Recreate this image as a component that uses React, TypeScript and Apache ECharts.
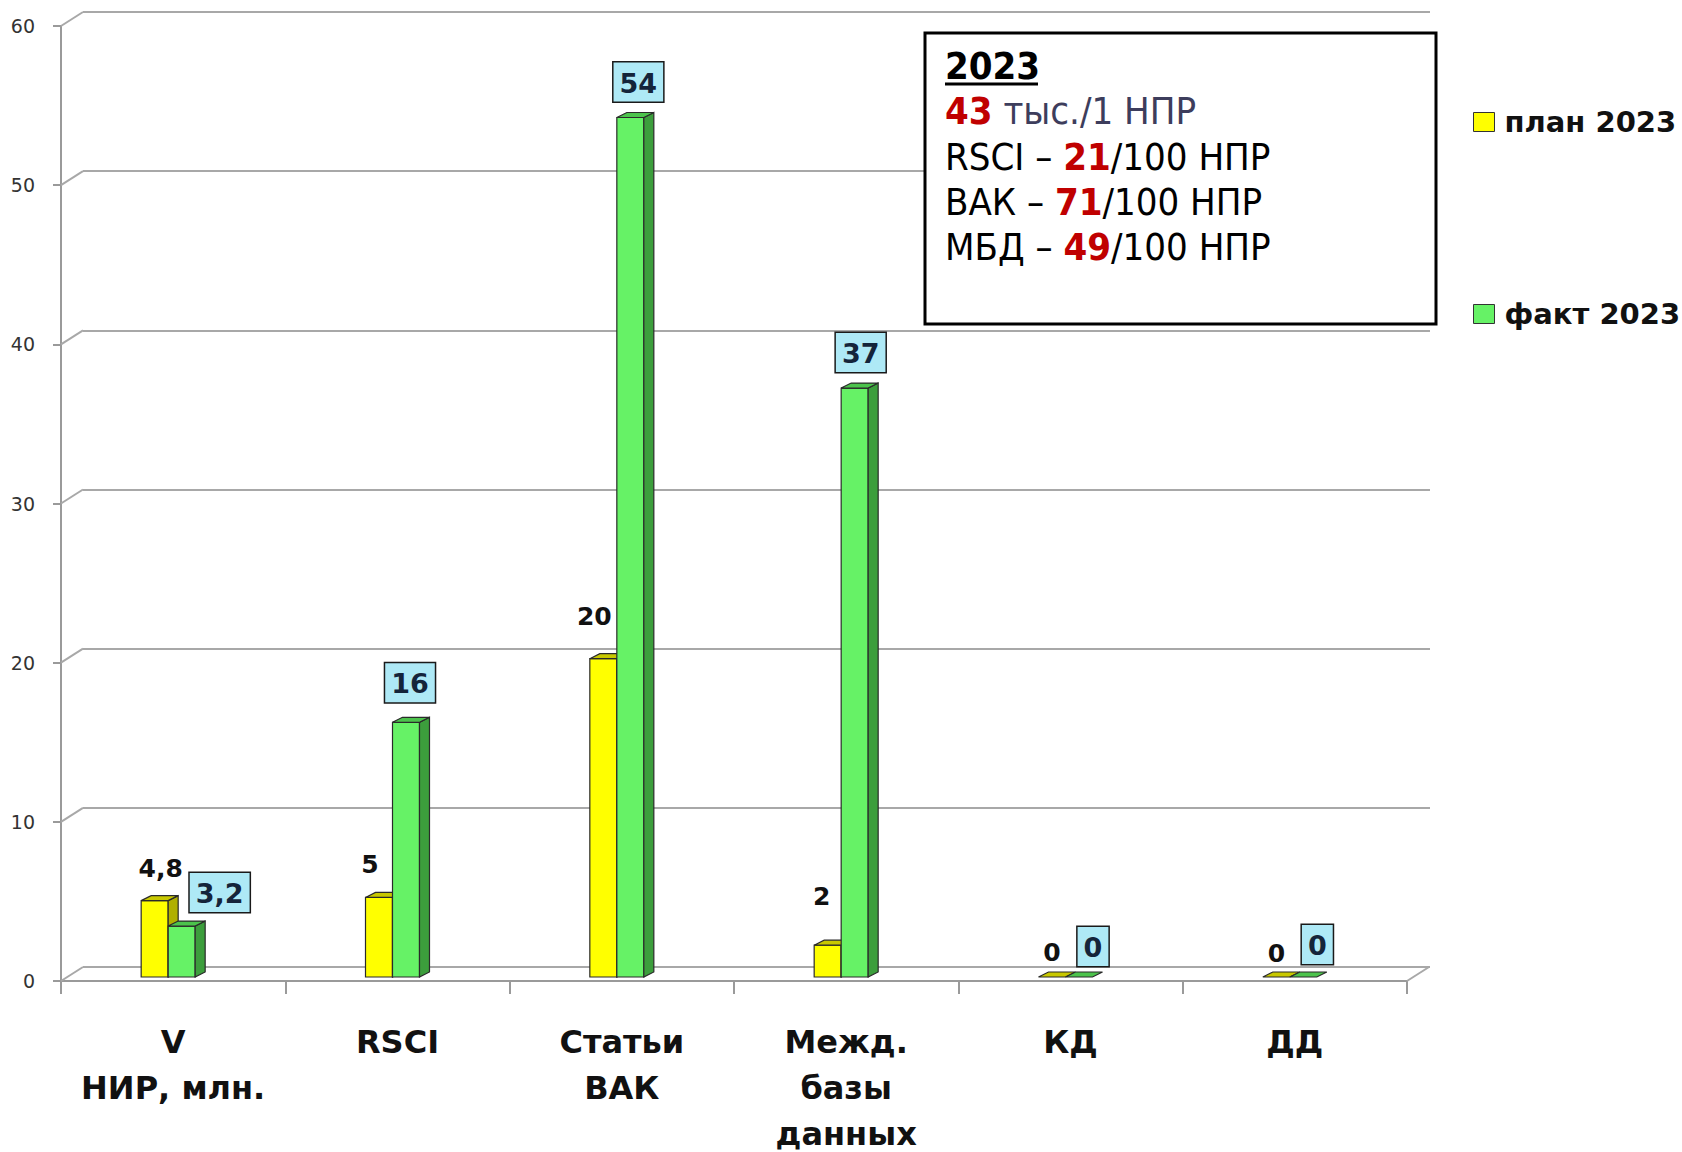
import React, { useEffect, useRef } from 'react';
import * as echarts from 'echarts';

// ---------- data ----------
const CATEGORIES = ['V\nНИР, млн.', 'RSCI', 'Статьи\nВАК', 'Межд.\nбазы\nданных', 'КД', 'ДД'];
const PLAN_2023 = [4.8, 5, 20, 2, 0, 0];
const FACT_2023 = [3.2, 16, 54, 37, 0, 0];
const Y_TICKS = [0, 10, 20, 30, 40, 50, 60];
const SERIES_NAMES = ['план 2023', 'факт 2023'];

// ---------- layout / style ----------
const DEPTH_X = 22;
const DEPTH_Y = -14;
const BAR_W = 27;
const BAR_DX = 10;
const BAR_DY = -5;
const BAR_LIFT = 4;
// label nudges [dx, distance above bar top]
const PLAN_LABEL_OFFSET = [[6, 32], [-9, 33], [-9, 42], [-6, 49], [0, 25], [0, 24]];
const FACT_LABEL_OFFSET = [[38, 14], [4, 20], [8, 16], [6, 16], [14, 11], [14, 13]];

const GRID_COLOR = '#a8a8a8';
const AXIS_COLOR = '#9a9a9a';
const FONT = '"DejaVu Sans", Verdana, sans-serif';
const BOX_FONT = '"DejaVu Sans Condensed", "DejaVu Sans", sans-serif';
const BOX_FS = 38;

const fmt = (v: number) => String(v).replace('.', ',');

const PALETTE = [
  { front: '#ffff00', side: '#b0b000', top: '#c8c800' },
  { front: '#66f266', side: '#3c9e3c', top: '#4cc34c' },
];

function makeBarRender(seriesIdx: number) {
  return (params: any, api: any) => {
    const i = api.value(0);
    const v = api.value(1);
    const [cx, yv] = api.coord([i, v]);
    const [, y0] = api.coord([i, 0]);
    const left = cx - (2 * BAR_W + BAR_DX) / 2 + seriesIdx * BAR_W;
    const base = y0 - BAR_LIFT;
    const topY = yv - BAR_LIFT;
    const c = PALETTE[seriesIdx];
    const stroke = '#2a2a2a';
    const children: any[] = [];
    if (base - topY > 0.5) {
      children.push({
        type: 'rect',
        shape: { x: left, y: topY, width: BAR_W, height: base - topY },
        style: { fill: c.front, stroke, lineWidth: 1.2 },
      });
      children.push({
        type: 'polygon',
        shape: {
          points: [
            [left + BAR_W, topY],
            [left + BAR_W + BAR_DX, topY + BAR_DY],
            [left + BAR_W + BAR_DX, base + BAR_DY],
            [left + BAR_W, base],
          ],
        },
        style: { fill: c.side, stroke, lineWidth: 1.2 },
      });
    }
    children.push({
      type: 'polygon',
      shape: {
        points: [
          [left, topY],
          [left + BAR_DX, topY + BAR_DY],
          [left + BAR_W + BAR_DX, topY + BAR_DY],
          [left + BAR_W, topY],
        ],
      },
      style: { fill: c.top, stroke, lineWidth: 1.2 },
    });
    const fc = left + BAR_W / 2;
    if (seriesIdx === 0) {
      const [dx, dy] = PLAN_LABEL_OFFSET[i];
      children.push({
        type: 'text',
        z2: 50,
        x: fc + dx,
        y: topY - dy,
        style: {
          text: fmt(v),
          font: `bold 25px ${FONT}`,
          fill: '#111',
          align: 'center',
          verticalAlign: 'middle',
        },
      });
    } else {
      const [dx, dy] = FACT_LABEL_OFFSET[i];
      children.push({
        type: 'text',
        z2: 50,
        x: fc + dx,
        y: topY - dy,
        style: {
          text: fmt(v),
          font: `bold 27px ${FONT}`,
          fill: '#14243a',
          align: 'center',
          verticalAlign: 'bottom',
          backgroundColor: '#aee9f6',
          borderColor: '#1a1a1a',
          borderWidth: 1.5,
          padding: [7, 6, 5, 6],
        },
      });
    }
    return { type: 'group', children };
  };
}

function wallRender(params: any, api: any) {
  const v = api.value(1);
  const [, y] = api.coord([0, v]);
  const cs = params.coordSys;
  const x0 = cs.x;
  const children: any[] = [
    {
      type: 'line',
      shape: { x1: x0, y1: y, x2: x0 + DEPTH_X, y2: y + DEPTH_Y },
      style: { stroke: GRID_COLOR, lineWidth: 2 },
    },
  ];
  if (v === 0) {
    const x1 = cs.x + cs.width;
    children.push({
      type: 'line',
      shape: { x1, y1: y, x2: x1 + DEPTH_X, y2: y + DEPTH_Y },
      style: { stroke: GRID_COLOR, lineWidth: 2 },
    });
  }
  return { type: 'group', children };
}

export default function App() {
  const ref = useRef<HTMLDivElement>(null);
  useEffect(() => {
    document.body.style.margin = '0';
    const chart = echarts.init(ref.current!, null, { renderer: 'svg' });
    const boxLine = (y: number, text: string) => ({
      type: 'text',
      z: 101,
      x: 945,
      y,
      style: {
        text,
        font: `${BOX_FS}px ${BOX_FONT}`,
        fill: '#000',
        verticalAlign: 'middle',
        rich: {
          r: { fontSize: BOX_FS, fontWeight: 'bold', fontFamily: BOX_FONT, fill: '#c00000' },
          s: { fontSize: BOX_FS, fontFamily: BOX_FONT, fill: '#3d3d5c' },
          n: { fontSize: BOX_FS, fontFamily: BOX_FONT, fill: '#000' },
        },
      },
    });
    chart.setOption({
      animation: false,
      backgroundColor: '#ffffff',
      grid: [
        { left: 61, right: 275, top: 26, bottom: 171, outerBoundsMode: 'none', containLabel: false },
        { left: 83, right: 252, top: 12, bottom: 185, outerBoundsMode: 'none', containLabel: false },
      ],
      xAxis: [
        {
          type: 'category',
          gridIndex: 0,
          data: CATEGORIES,
          boundaryGap: true,
          axisLine: { show: true, lineStyle: { color: AXIS_COLOR, width: 2 } },
          axisTick: { show: true, length: 13, interval: 0, lineStyle: { color: AXIS_COLOR, width: 2 } },
          axisLabel: {
            interval: 0,
            margin: 38,
            fontFamily: FONT,
            fontWeight: 'bold',
            fontSize: 32,
            lineHeight: 46,
            color: '#111',
          },
          splitLine: { show: false },
        },
        {
          type: 'category',
          gridIndex: 1,
          data: CATEGORIES,
          show: false,
        },
      ],
      yAxis: [
        {
          type: 'value',
          gridIndex: 0,
          min: 0,
          max: 60,
          interval: 10,
          axisLine: { show: true, lineStyle: { color: AXIS_COLOR, width: 2 } },
          axisTick: { show: true, length: 8, lineStyle: { color: AXIS_COLOR, width: 2 } },
          axisLabel: { margin: 26, fontFamily: FONT, fontSize: 19, color: '#333' },
          splitLine: { show: false },
        },
        {
          type: 'value',
          gridIndex: 1,
          min: 0,
          max: 60,
          interval: 10,
          axisLine: { show: false },
          axisTick: { show: false },
          axisLabel: { show: false },
          splitLine: { show: true, lineStyle: { color: GRID_COLOR, width: 2 } },
        },
      ],
      legend: {
        data: SERIES_NAMES,
        orient: 'vertical',
        left: 1468,
        top: 101,
        itemWidth: 21,
        itemHeight: 19,
        itemGap: 160,
        icon: 'rect',
        itemStyle: { borderColor: '#333', borderWidth: 1 },
        textStyle: {
          fontFamily: FONT,
          fontWeight: 'bold',
          fontSize: 29,
          lineHeight: 32,
          color: '#111',
          padding: [0, 0, 0, 5],
        },
        selectedMode: false,
      },
      series: [
        {
          type: 'custom',
          name: 'walls',
          xAxisIndex: 0,
          yAxisIndex: 0,
          silent: true,
          z: 1,
          renderItem: wallRender,
          data: Y_TICKS.map((v) => [0, v]),
          encode: { x: 0, y: 1 },
        },
        {
          type: 'custom',
          name: SERIES_NAMES[0],
          xAxisIndex: 0,
          yAxisIndex: 0,
          z: 3,
          itemStyle: { color: '#ffff00' },
          renderItem: makeBarRender(0),
          data: PLAN_2023.map((v, i) => [i, v]),
          encode: { x: 0, y: 1 },
        },
        {
          type: 'custom',
          name: SERIES_NAMES[1],
          xAxisIndex: 0,
          yAxisIndex: 0,
          z: 4,
          itemStyle: { color: '#66f266' },
          renderItem: makeBarRender(1),
          data: FACT_2023.map((v, i) => [i, v]),
          encode: { x: 0, y: 1 },
        },
      ],
      graphic: [
        {
          type: 'rect',
          z: 100,
          shape: { x: 925, y: 33, width: 511, height: 291 },
          style: { fill: '#fff', stroke: '#000', lineWidth: 3 },
        },
        {
          type: 'text',
          z: 101,
          x: 945,
          y: 66,
          style: {
            text: '2023',
            font: `bold ${BOX_FS}px ${BOX_FONT}`,
            fill: '#000',
            verticalAlign: 'middle',
          },
        },
        {
          type: 'line',
          z: 101,
          shape: { x1: 945, y1: 84, x2: 1038, y2: 84 },
          style: { stroke: '#000', lineWidth: 3 },
        },
        boxLine(111, '{r|43} {s|тыс./1 НПР}'),
        boxLine(157, '{n|RSCI – }{r|21}{n|/100 НПР}'),
        boxLine(202, '{n|ВАК – }{r|71}{n|/100 НПР}'),
        boxLine(247, '{n|МБД – }{r|49}{n|/100 НПР}'),
      ],
    });
    return () => chart.dispose();
  }, []);
  return (
    <div
      ref={ref}
      style={{ position: 'fixed', left: 0, top: 0, width: 1682, height: 1152, background: '#fff' }}
    />
  );
}
